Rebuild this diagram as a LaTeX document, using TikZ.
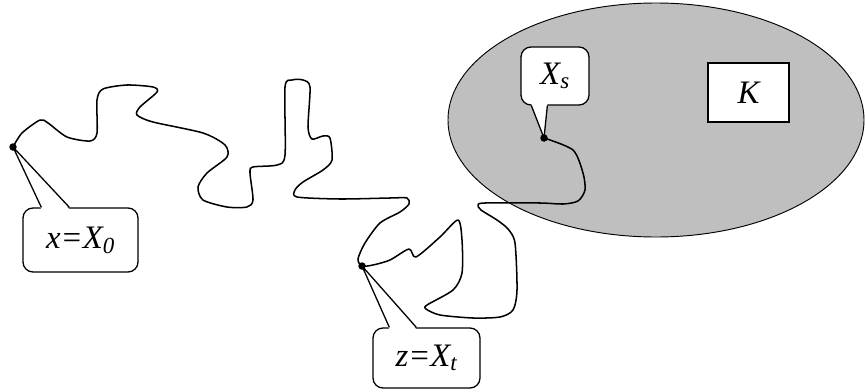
\documentclass[tikz,border=0pt]{standalone}
\usepackage{fontspec}
\setmainfont{Liberation Serif}
\usetikzlibrary{calc}

\tikzset{
  callout/.style={draw, fill=white, line width=1.1pt, rounded corners=0.3cm, inner sep=0pt,
    font=\fontsize{28}{32}\selectfont\itshape},
  walk/.style={line width=1.3pt, line join=round},
  tail/.style={line width=1.1pt, line join=round}
}
\newcommand{\lowidx}[1]{\textsubscript{#1}}

\begin{document}
\begin{tikzpicture}[x=0.03cm,y=-0.03cm]
\useasboundingbox (0,0) rectangle (865,392);

% the set and K
\draw[fill=gray!50, line width=0.8pt] (656,120) ellipse [x radius=208, y radius=117];
\node[draw, fill=white, line width=1.1pt, minimum width=2.43cm, minimum height=1.77cm,
  font=\fontsize{28}{32}\selectfont\itshape] (K) at (748.5,92.5) {K};

% points of the walk
\coordinate (x0pt) at (13,147);
\coordinate (ztpt) at (362,266);
\coordinate (xspt) at (544,138);

\draw[walk] plot[smooth, tension=0.45] coordinates {
  (x0pt) (22,133) (40,120) (48,123) (67,137) (90,141) (97,133) (97,100) (103,89)
  (127,85) (153,87) (157,92) (140,107) (137,115) (153,122) (203,133) (225,145)
  (227,157) (207,173) (198,187) (203,200) (227,207) (247,207) (253,200) (250,173)
  (253,167) (277,165) (285,155) (285,87) (292,80) (303,80) (310,87) (308,127)
  (312,139) (323,136) (330,138) (332,160) (323,170) (303,182) (295,190) (297,197)
  (340,199) (390,198) (407,198) (409,204) (400,212) (380,223) (365,243) (358,259)
  (ztpt) (373,265) (390,260) (409,249) (416,257) (440,237) (458,220) (462,240)
  (462,273) (453,290) (427,305) (426,309) (440,315) (473,318) (500,317) (513,310)
  (517,290) (515,243) (508,229) (497,220) (481,210) (478,205) (485,203)
  (540,203) (563,204) (578,201) (585,190) (583,173) (573,150) (xspt)};

\fill (x0pt) circle (3.2pt);
\fill (ztpt) circle (3.2pt);
\fill (xspt) circle (3.2pt);

% callouts
\node[callout, minimum width=3.45cm, minimum height=1.92cm] (x0lab) at (80.5,240) {x=X\lowidx{0}};
\fill[white] ($(x0lab.north west)+(19,2)$) -- (x0pt) -- ($(x0lab.north west)+(47,2)$) -- cycle;
\draw[tail] ($(x0lab.north west)+(19,0)$) -- (x0pt) -- ($(x0lab.north west)+(47,0)$);

\node[callout, minimum width=3.21cm, minimum height=1.8cm] (ztlab) at (426.5,358) {z=X\lowidx{t}};
\fill[white] ($(ztlab.north west)+(17,2)$) -- (ztpt) -- ($(ztlab.north west)+(44,2)$) -- cycle;
\draw[tail] ($(ztlab.north west)+(17,0)$) -- (ztpt) -- ($(ztlab.north west)+(44,0)$);

\node[callout, minimum width=2.04cm, minimum height=1.74cm] (xslab) at (555,76) {X\lowidx{s}};
\fill[white] ($(xslab.south west)+(11,-2)$) -- (xspt) -- ($(xslab.south west)+(27,-2)$) -- cycle;
\draw[tail] ($(xslab.south west)+(11,0)$) -- (xspt) -- ($(xslab.south west)+(27,0)$);
\end{tikzpicture}
\end{document}
